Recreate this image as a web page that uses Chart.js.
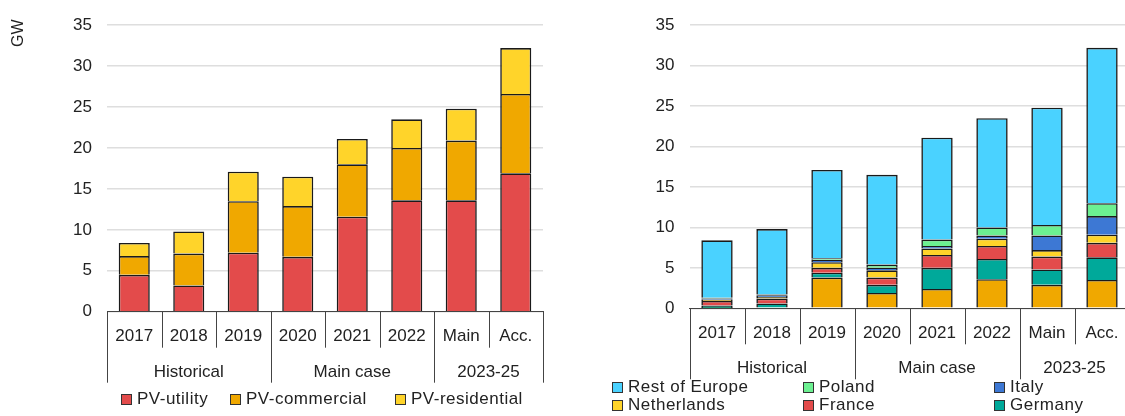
<!DOCTYPE html>
<html>
<head>
<meta charset="utf-8">
<title>Solar PV additions, Europe</title>
<script src="https://cdn.jsdelivr.net/npm/chart.js@4.4.0/dist/chart.umd.min.js"></script>
<style>
    html, body {
        margin: 0;
        padding: 0;
        width: 1125px;
        height: 416px;
        overflow: hidden;
        background: #fff;
        font-family: 'Liberation Sans', Arial, sans-serif;
        color: #222;
    }
    .panel {
        position: absolute;
        top: 0;
    }
    .unit {
        position: absolute;
        left: 9px;
        top: 47px;
        font-size: 16px;
        transform: rotate(-90deg);
        transform-origin: left top;
    }
    .legend-item {
        position: absolute;
        display: flex;
        align-items: center;
        height: 20px;
        font-size: 17px;
        letter-spacing: 0.5px;
        white-space: nowrap;
    }
    .legend-item span.box {
        display: inline-block;
        width: 9px;
        height: 9px;
        border: 1px solid #333;
        margin-right: 5px;
    }
</style>
</head>
<body>
<div class="panel" style="left:0px;width:560px;height:416px;">
    <canvas id="segmentChart" width="560" height="416"></canvas>
</div>
<div class="unit">GW</div>
<div class="panel" style="left:580px;width:555px;height:416px;">
    <canvas id="countryChart" width="555" height="416"></canvas>
</div>
<div id="legends"></div>

<script>
// Category axis data
const years = ['2017', '2018', '2019', '2020', '2021', '2022', 'Main', 'Acc.'];
const groupLabels = ['Historical', 'Main case', '2023-25'];
const groupSizes = [3, 3, 2];

// Left chart - by segment (GW)
const pvUtility     = [4.5, 3.2, 7.2, 6.7, 11.6, 13.6, 13.6, 16.9];
const pvCommercial  = [2.3, 3.9, 6.3, 6.2, 6.4, 6.4, 7.3, 9.7];
const pvResidential = [1.6, 2.7, 3.6, 3.6, 3.1, 3.5, 3.9, 5.6];

// Right chart - by country (GW), bottom series has no legend entry
const spain        = [0.05, 0.1, 3.8, 1.9, 2.4, 3.6, 2.9, 3.5];
const germany      = [0.3, 0.5, 0.6, 1.0, 2.6, 2.5, 1.9, 2.8];
const france       = [0.55, 0.6, 0.6, 0.9, 1.6, 1.6, 1.6, 1.8];
const netherlands  = [0.15, 0.2, 0.7, 0.9, 0.8, 0.9, 0.8, 1.0];
const italy        = [0.15, 0.2, 0.3, 0.3, 0.3, 0.4, 1.8, 2.3];
const poland       = [0.1, 0.1, 0.2, 0.4, 0.8, 1.0, 1.3, 1.6];
const restOfEurope = [7.1, 8.1, 10.9, 11.1, 12.6, 13.5, 14.5, 19.2];

const yMax = 35;
const yStep = 5;

const colors = {
    red: '#e34b4b',
    orange: '#f0a800',
    yellow: '#ffd42a',
    teal: '#00a99a',
    blue: '#3d78d4',
    green: '#6cf091',
    lightBlue: '#4ad2ff'
};

const FONT = "'Liberation Sans', Arial, sans-serif";

// Draws the two-level category axis (years + groups) under the chart area
function groupAxisPlugin(id) {
    return {
        id: id,
        afterDraw(chart) {
            const ctx = chart.ctx;
            const x = chart.scales.x;
            const base = chart.chartArea.bottom;
            const n = years.length;

            // group boundary indices
            const bounds = [0];
            groupSizes.forEach(s => bounds.push(bounds[bounds.length - 1] + s));

            const edge = i => {
                if (i === 0) return x.left;
                if (i === n) return x.right;
                return (x.getPixelForValue(i - 1) + x.getPixelForValue(i)) / 2;
            };

            ctx.save();
            ctx.strokeStyle = '#444';
            ctx.lineWidth = 1;
            for (let i = 0; i <= n; i++) {
                const len = bounds.includes(i) ? 71 : 36;
                const px = Math.round(edge(i)) + 0.5;
                ctx.beginPath();
                ctx.moveTo(px, base);
                ctx.lineTo(px, base + len);
                ctx.stroke();
            }

            ctx.fillStyle = '#222';
            ctx.font = '17px ' + FONT;
            ctx.textAlign = 'center';
            ctx.textBaseline = 'middle';
            years.forEach((label, i) => {
                ctx.fillText(label, x.getPixelForValue(i), base + 25);
            });

            groupLabels.forEach((label, g) => {
                const cx = (edge(bounds[g]) + edge(bounds[g + 1])) / 2;
                ctx.fillText(label, cx, base + 60.5);
            });
            ctx.restore();
        }
    };
}

function makeOptions(yWidth, padding, xHeight) {
    return {
        responsive: false,
        animation: false,
        layout: { padding: padding },
        plugins: {
            legend: { display: false },
            tooltip: { enabled: false }
        },
        scales: {
            x: {
                stacked: true,
                grid: { display: false },
                border: { display: true, color: '#444', width: 1 },
                ticks: { display: false },
                afterFit(scale) { scale.height = xHeight; }
            },
            y: {
                stacked: true,
                min: 0,
                max: yMax,
                grid: { color: '#dedede', lineWidth: 1.5, drawTicks: false },
                border: { display: false },
                ticks: {
                    stepSize: yStep,
                    padding: 15,
                    color: '#222',
                    font: { family: FONT, size: 17 }
                },
                afterFit(scale) { scale.width = yWidth; }
            }
        }
    };
}

function bar(label, data, color) {
    return {
        label: label,
        data: data,
        backgroundColor: color,
        borderColor: '#1a1a1a',
        borderWidth: 1.6,
        categoryPercentage: 1,
        barPercentage: 0.57
    };
}

function addLegend(items) {
    const holder = document.getElementById('legends');
    items.forEach(item => {
        const el = document.createElement('div');
        el.className = 'legend-item';
        el.style.left = item.x + 'px';
        el.style.top = (item.y - 10) + 'px';
        el.innerHTML = '<span class="box" style="background:' + item.color + '"></span>' + item.label;
        holder.appendChild(el);
    });
}

document.addEventListener('DOMContentLoaded', function() {
    // Left: by segment
    new Chart(document.getElementById('segmentChart'), {
        type: 'bar',
        data: {
            labels: years,
            datasets: [
                bar('PV-utility', pvUtility, colors.red),
                bar('PV-commercial', pvCommercial, colors.orange),
                bar('PV-residential', pvResidential, colors.yellow)
            ]
        },
        options: makeOptions(107, { top: 17.5, right: 17, bottom: 0, left: 0 }, 104.3),
        plugins: [groupAxisPlugin('groupAxisLeft')]
    });

    // Right: by country
    new Chart(document.getElementById('countryChart'), {
        type: 'bar',
        data: {
            labels: years,
            datasets: [
                bar('Spain', spain, colors.orange),
                bar('Germany', germany, colors.teal),
                bar('France', france, colors.red),
                bar('Netherlands', netherlands, colors.yellow),
                bar('Italy', italy, colors.blue),
                bar('Poland', poland, colors.green),
                bar('Rest of Europe', restOfEurope, colors.lightBlue)
            ]
        },
        options: makeOptions(109.5, { top: 20, right: 5.5, bottom: 0, left: 0 }, 107.7),
        plugins: [groupAxisPlugin('groupAxisRight')]
    });

    addLegend([
        { label: 'PV-utility', color: colors.red, x: 121, y: 399 },
        { label: 'PV-commercial', color: colors.orange, x: 230, y: 399 },
        { label: 'PV-residential', color: colors.yellow, x: 395, y: 399 },
        { label: 'Rest of Europe', color: colors.lightBlue, x: 612, y: 387 },
        { label: 'Poland', color: colors.green, x: 803, y: 387 },
        { label: 'Italy', color: colors.blue, x: 994, y: 387 },
        { label: 'Netherlands', color: colors.yellow, x: 612, y: 405 },
        { label: 'France', color: colors.red, x: 803, y: 405 },
        { label: 'Germany', color: colors.teal, x: 994, y: 405 }
    ]);
});
</script>
</body>
</html>
